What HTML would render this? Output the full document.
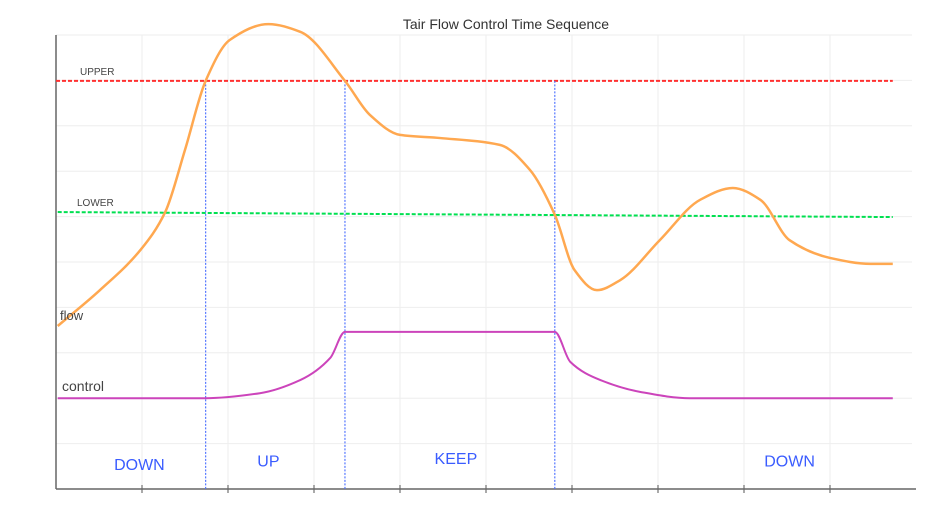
<!DOCTYPE html>
<html><head><meta charset="utf-8"><style>
body{margin:0;background:#fff;}
svg{display:block;font-family:"Liberation Sans",sans-serif;}
</style></head><body>
<svg id="c" width="927" height="508"></svg>
<script>
const flowX=[0.02,0.51,0.98,1.27,1.50,1.74,2.02,2.47,2.84,3.36,3.65,4.0,4.47,5.16,5.51,5.80,6.03,6.29,6.56,7.02,7.49,7.87,8.19,8.53,9.0,9.47,9.73];
const flowY=[3.59,4.38,5.26,6.10,7.47,8.99,9.89,10.24,10.07,8.99,8.24,7.80,7.73,7.58,7.03,6.04,4.82,4.38,4.60,5.48,6.37,6.63,6.37,5.48,5.09,4.96,4.96];
const ctrlX=[0.02,1.74,2.37,2.84,3.19,3.36,5.80,5.98,6.33,6.79,7.37,9.73];
const ctrlY=[2.0,2.0,2.11,2.40,2.89,3.46,3.46,2.80,2.40,2.14,2.0,2.0];
const upperY=[8.99,8.99];
const lowerY=[6.10,5.99];
const phaseX=[1.74,3.36,5.80];
const phaseLabels=["DOWN","UP","KEEP","DOWN"];
const phaseLabelX=[0.97,2.47,4.65,8.53];
const phaseLabelY=[0.42,0.5,0.55,0.5];
const xTicks=[1,2,3,4,5,6,7,8,9];
const yGrid=[1,2,3,4,5,6,7,8,9,10];

const NS="http://www.w3.org/2000/svg";
const svg=document.getElementById('c');
const X=v=>56+v*86, Y=v=>489-v*45.4;
function mk(t,a,p){const e=document.createElementNS(NS,t);for(const k in a)e.setAttribute(k,a[k]);(p||svg).appendChild(e);return e;}
function monotone(xs,ys){
 const n=xs.length,d=[],m=[];
 for(let i=0;i<n-1;i++)d.push((ys[i+1]-ys[i])/(xs[i+1]-xs[i]));
 m[0]=d[0];m[n-1]=d[n-2];
 for(let i=1;i<n-1;i++){
  if(d[i-1]*d[i]<=0)m[i]=0;
  else{const h0=xs[i]-xs[i-1],h1=xs[i+1]-xs[i],w1=2*h1+h0,w2=h1+2*h0;m[i]=(w1+w2)/(w1/d[i-1]+w2/d[i]);}
 }
 let p=`M${X(xs[0])},${Y(ys[0])}`;
 for(let i=0;i<n-1;i++){const h=(xs[i+1]-xs[i])/3;
  p+=` C${X(xs[i]+h)},${Y(ys[i]+m[i]*h)} ${X(xs[i+1]-h)},${Y(ys[i+1]-m[i+1]*h)} ${X(xs[i+1])},${Y(ys[i+1])}`;}
 return p;}

let e;
xTicks.forEach(t=>{e=mk('line',{x1:X(t),x2:X(t),y1:35,y2:489,stroke:'#eee'});

e=mk('line',{x1:X(t),x2:X(t),y1:485,y2:493,stroke:'#555'});
});
yGrid.forEach(t=>{e=mk('line',{x1:56,x2:912,y1:Y(t),y2:Y(t),stroke:'#eee'});
});

e=mk('line',{x1:56,x2:56,y1:35,y2:489,stroke:'#666','stroke-width':1.5});

e=mk('line',{x1:56,x2:916,y1:489,y2:489,stroke:'#666','stroke-width':1.5});


e=mk('line',{x1:X(0),x2:X(9.73),y1:Y(upperY[0]),y2:Y(upperY[1]),stroke:'#ff3030','stroke-width':2,'stroke-dasharray':'4,2'});

e=mk('line',{x1:X(0.02),x2:X(9.73),y1:Y(lowerY[0]),y2:Y(lowerY[1]),stroke:'#00e050','stroke-width':2,'stroke-dasharray':'4,2'});


phaseX.forEach(p=>{e=mk('line',{x1:X(p),x2:X(p),y1:Y(8.99),y2:489,stroke:'#5577ff','stroke-width':1.2,'stroke-dasharray':'2,1.5'});
});

e=mk('path',{d:monotone(flowX,flowY),fill:'none',stroke:'#ffa850','stroke-width':2.5});

e=mk('path',{d:monotone(ctrlX,ctrlY),fill:'none',stroke:'#cc44bb','stroke-width':2});


function txt(s,x,y,a,name){const t=mk('text',a);t.setAttribute('x',x);t.setAttribute('y',y);t.textContent=s;
return t;}
txt('Tair Flow Control Time Sequence',506,29,{'font-size':14,'text-anchor':'middle',fill:'#333'},'chart-title');
txt('UPPER',80,75,{'font-size':10,fill:'#444'},'upper-label');
txt('LOWER',77,206,{'font-size':10,fill:'#444'},'lower-label');
txt('flow',60,320,{'font-size':13,fill:'#444'},'flow-label');
txt('control',62,391,{'font-size':14,fill:'#444'},'control-label');
phaseLabels.forEach((s,i)=>txt(s,X(phaseLabelX[i]),Y(phaseLabelY[i]),{'font-size':16,'text-anchor':'middle',fill:'#3a5cff'},'phase-label'));
</script>
</body></html>
